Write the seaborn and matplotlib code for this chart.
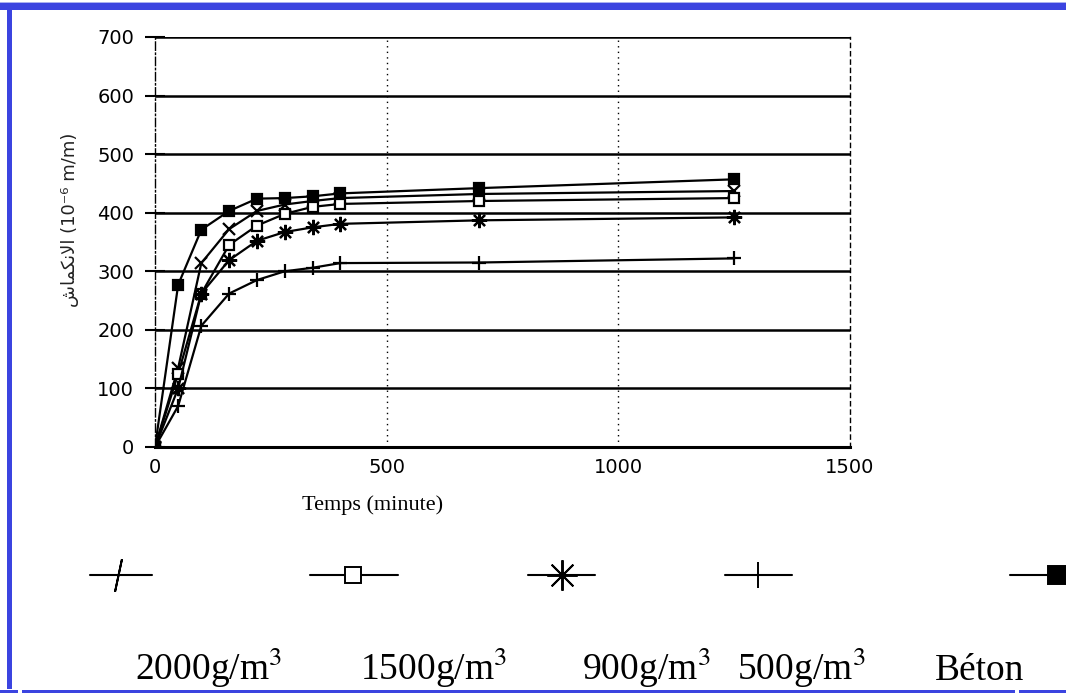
import matplotlib
matplotlib.use('Agg')
import matplotlib.pyplot as plt
from matplotlib.patches import Rectangle
from matplotlib.lines import Line2D
import seaborn as sns
import pandas as pd

# data (time in minutes, shrinkage 1e-6)
temps = [0, 50, 100, 160, 220, 280, 340, 400, 700, 1250]
beton = [0, 277, 371, 403, 424, 425, 428, 433, 442, 457]
dose_2000 = [0, 135, 314, 372, 403, 414, 420, 425, 432, 437]
dose_1500 = [0, 125, 262, 345, 378, 398, 410, 415, 420, 425]
dose_900 = [0, 100, 262, 319, 352, 367, 375, 381, 387, 392]
dose_500 = [0, 70, 207, 262, 285, 300, 306, 314, 315, 322]

legend_labels = ['2000g/m$^3$', '1500g/m$^3$', '900g/m$^3$', '500g/m$^3$', 'Béton']
xticks = [0, 500, 1000, 1500]
yticks = [0, 100, 200, 300, 400, 500, 600, 700]

# y label (rendered as presentation forms in visual order)
ylabel = '\uFEB5\uFE8E\uFEE4\uFEDC\uFEE7\uFEFB\uFE8D (10\u207b\u2076 m/m)'

sns.set_style('white')
plt.rcParams['mathtext.fontset'] = 'stix'
plt.rcParams['text.color'] = 'black'
plt.rcParams['xtick.color'] = 'black'
plt.rcParams['ytick.color'] = 'black'

fig = plt.figure(figsize=(10.66, 6.95), dpi=100)

# background axes in pixel units for frame and legend
bg = fig.add_axes([0, 0, 1, 1])
bg.set_xlim(0, 1066)
bg.set_ylim(695, 0)
bg.axis('off')
blue = '#3B44E0'
bg.add_patch(Rectangle((0, 2), 1066, 1, color='#aab0f0', lw=0))
bg.add_patch(Rectangle((0, 3), 1066, 7, color=blue, lw=0))
bg.add_patch(Rectangle((7, 3), 5, 686, color=blue, lw=0))
bg.add_patch(Rectangle((0, 690), 18, 3, color=blue, lw=0))
bg.add_patch(Rectangle((22, 690), 993, 3, color=blue, lw=0))
bg.add_patch(Rectangle((1019, 690), 47, 3, color=blue, lw=0))

ax = fig.add_axes([155 / 1066, 1 - 447 / 695, 695 / 1066, (447 - 37) / 695])

series = [
    ('2000', dose_2000, 'x', 9, 'none'),
    ('1500', dose_1500, 's', 7, 'white'),
    ('900', dose_900, (8, 2, 0), 11, 'none'),
    ('500', dose_500, '+', 10, 'none'),
    ('Béton', beton, 's', 7, 'black'),
]
for name, vals, mk, ms, fc in series:
    df = pd.DataFrame({'t': temps, 'v': vals})
    sns.lineplot(data=df, x='t', y='v', ax=ax, color='black', lw=1.6,
                 marker=mk, markersize=ms, markerfacecolor=fc,
                 markeredgecolor='black', markeredgewidth=1.6, zorder=3)

ax.set_xlim(0, 1500)
ax.set_ylim(0, 700)
ax.set_xticks(xticks)
ax.set_yticks(yticks)
ax.set_xticklabels([str(v) for v in xticks])
ax.set_yticklabels([str(v) for v in yticks])
for y in yticks[1:]:
    ax.axhline(y, color='black', lw=1.8, zorder=1)
for x in [500, 1000]:
    ax.axvline(x, color='black', lw=1.0, ls=(0, (1, 3)), zorder=1)
ax.spines['top'].set_visible(False)
ax.spines['right'].set_linestyle((0, (3, 3)))
ax.spines['right'].set_linewidth(1.0)
ax.spines['left'].set_linestyle((0, (6, 2, 1, 2)))
ax.spines['left'].set_linewidth(1.0)
ax.spines['bottom'].set_linewidth(2.2)
for s in ax.spines.values():
    s.set_color('black')
ax.tick_params(axis='y', left=True, direction='inout', length=14, width=1.5,
               pad=8, labelsize=14)
ax.tick_params(axis='x', bottom=False, length=0, pad=8, labelsize=14)
for lab in ax.get_xticklabels() + ax.get_yticklabels():
    lab.set_family(['Liberation Sans Narrow', 'DejaVu Sans'])

ax.set_xlabel('Temps (minute)', family='Liberation Serif', fontsize=16,
              color='black')
ax.xaxis.set_label_coords((373 - 155) / 695, (447 - 505) / 410)
ax.xaxis.label.set_va('center')
ax.set_ylabel(ylabel, family='DejaVu Sans', fontsize=13, color='#222222')
ax.yaxis.set_label_coords((70 - 155) / 695, (447 - 220) / 410)
ax.yaxis.label.set_va('center')

# legend drawn below the chart
line_spans = [(90, 152), (310, 398), (528, 595), (725, 792), (1010, 1047)]
mark_x = [118, 353, 562, 758, 1057]
mark_style = [((2, 2, -12), 24, 'none'), ('s', 11, 'white'),
              ((8, 2, 0), 22, 'none'), ('+', 19, 'none'), ('s', 13, 'black')]
label_x = [135, 360, 582, 737, 935]
ly = 575
for (x0, x1), mx, (mk, ms, fc), tx, lab in zip(line_spans, mark_x, mark_style,
                                              label_x, legend_labels):
    bg.add_line(Line2D([x0, x1], [ly, ly], color='black', lw=1.5))
    bg.add_line(Line2D([mx], [ly], marker=mk, markersize=ms, markerfacecolor=fc,
                       markeredgecolor='black', markeredgewidth=1.4, lw=0))
    bg.text(tx, 680, lab, family='Liberation Serif', fontsize=27,
            ha='left', va='baseline', color='black')

fig.savefig('out.png', dpi=100)
